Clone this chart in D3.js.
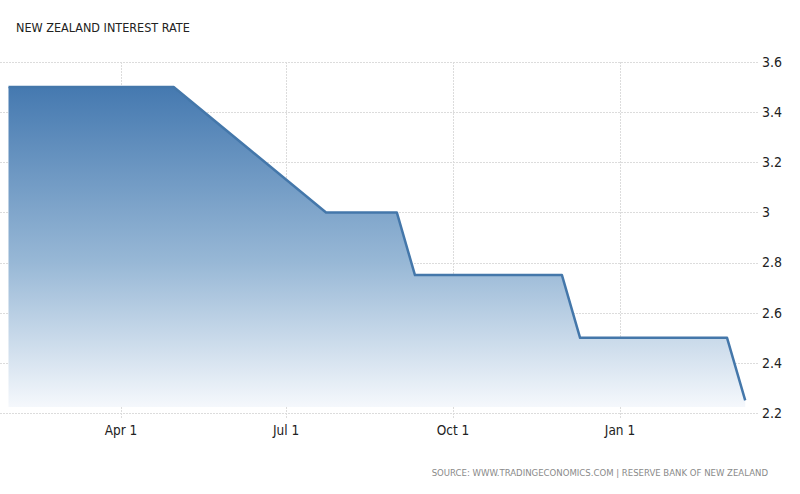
<!DOCTYPE html>
<html lang="en">
<head>
<meta charset="UTF-8">
<title>New Zealand Interest Rate</title>
<script src="https://d3js.org/d3.v7.min.js"></script>
<style>
    body { margin: 0; background: #fff; }
    text { font-family: "DejaVu Sans Condensed", "Liberation Sans", sans-serif; }
</style>
</head>
<body>
<svg id="chart"></svg>
<script>
    // decision dates and OCR values
    var dates = ["2015-01-29", "2015-02-28", "2015-03-12", "2015-04-30", "2015-06-11", "2015-07-23",
                 "2015-08-31", "2015-09-10", "2015-10-29", "2015-11-30", "2015-12-10",
                 "2016-01-28", "2016-02-29", "2016-03-10"];
    var rates = [3.5, 3.5, 3.5, 3.5, 3.25, 3.0, 3.0, 2.75, 2.75, 2.75, 2.5, 2.5, 2.5, 2.25];
    var yTicks = [2.2, 2.4, 2.6, 2.8, 3, 3.2, 3.4, 3.6];
    var xTicks = ["2015-04-01", "2015-07-01", "2015-10-01", "2016-01-01"];

    var parse = d3.timeParse("%Y-%m-%d");
    var data = dates.map(function (d, i) { return {date: parse(d), rate: rates[i]}; });

    var width = 800, height = 494;
    var svg = d3.select("#chart").attr("width", width).attr("height", height);

    var xScale = d3.scaleTime()
        .domain([parse("2015-04-01"), parse("2016-01-01")])
        .range([121, 620]);

    var yScale = d3.scaleLinear()
        .domain([2.2, 3.6])
        .range([413, 62]);

    // gradient for the area
    var grad = svg.append("defs").append("linearGradient")
        .attr("id", "fillGrad")
        .attr("x1", 0).attr("y1", 0).attr("x2", 0).attr("y2", 1);
    grad.append("stop").attr("offset", "0%").attr("stop-color", "#4579b0");
    grad.append("stop").attr("offset", "55%").attr("stop-color", "#98b8d6");
    grad.append("stop").attr("offset", "100%").attr("stop-color", "#f5f8fc");

    // horizontal grid
    svg.append("g")
        .selectAll("line")
        .data(yTicks)
        .join("line")
        .attr("x1", 0).attr("x2", 758)
        .attr("y1", function (d) { return Math.round(yScale(d)) + 0.5; })
        .attr("y2", function (d) { return Math.round(yScale(d)) + 0.5; })
        .attr("stroke", "#dcdcdc")
        .attr("stroke-dasharray", "2,1");

    // vertical grid
    svg.append("g")
        .selectAll("line")
        .data(xTicks)
        .join("line")
        .attr("x1", function (d) { return Math.round(xScale(parse(d))) + 0.5; })
        .attr("x2", function (d) { return Math.round(xScale(parse(d))) + 0.5; })
        .attr("y1", yScale(3.6)).attr("y2", yScale(2.2) + 6)
        .attr("stroke", "#dcdcdc")
        .attr("stroke-dasharray", "2,1");

    var area = d3.area()
        .x(function (d) { return xScale(d.date); })
        .y0(yScale(2.2) - 6)
        .y1(function (d) { return yScale(d.rate); });

    var line = d3.line()
        .x(function (d) { return xScale(d.date); })
        .y(function (d) { return yScale(d.rate); });

    svg.append("path")
        .datum(data)
        .attr("d", area)
        .attr("fill", "url(#fillGrad)");

    svg.append("path")
        .datum(data)
        .attr("d", line)
        .attr("fill", "none")
        .attr("stroke", "#4477aa")
        .attr("stroke-width", 2.5)
        .attr("stroke-linejoin", "round");

    // y labels on the right
    svg.append("g")
        .selectAll("text")
        .data(yTicks)
        .join("text")
        .attr("x", 762)
        .attr("y", function (d) { return yScale(d); })
        .attr("dy", "0.35em")
        .attr("font-size", 14)
        .attr("fill", "#222")
        .text(function (d) { return d3.format("")(d); });

    // x labels
    svg.append("g")
        .selectAll("text")
        .data(xTicks)
        .join("text")
        .attr("x", function (d) { return xScale(parse(d)); })
        .attr("y", 435)
        .attr("text-anchor", "middle")
        .attr("font-size", 13.5)
        .attr("fill", "#222")
        .text(function (d) { return d3.timeFormat("%b %-d")(parse(d)); });

    svg.append("text")
        .attr("x", 16).attr("y", 32)
        .attr("font-size", 12.5)
        .attr("fill", "#222")
        .text("NEW ZEALAND INTEREST RATE");

    svg.append("text")
        .attr("x", 768).attr("y", 476)
        .attr("text-anchor", "end")
        .attr("font-size", 9.5)
        .attr("fill", "#8a8a8a")
        .text("SOURCE: WWW.TRADINGECONOMICS.COM  |  RESERVE BANK OF NEW ZEALAND");
</script>
</body>
</html>
